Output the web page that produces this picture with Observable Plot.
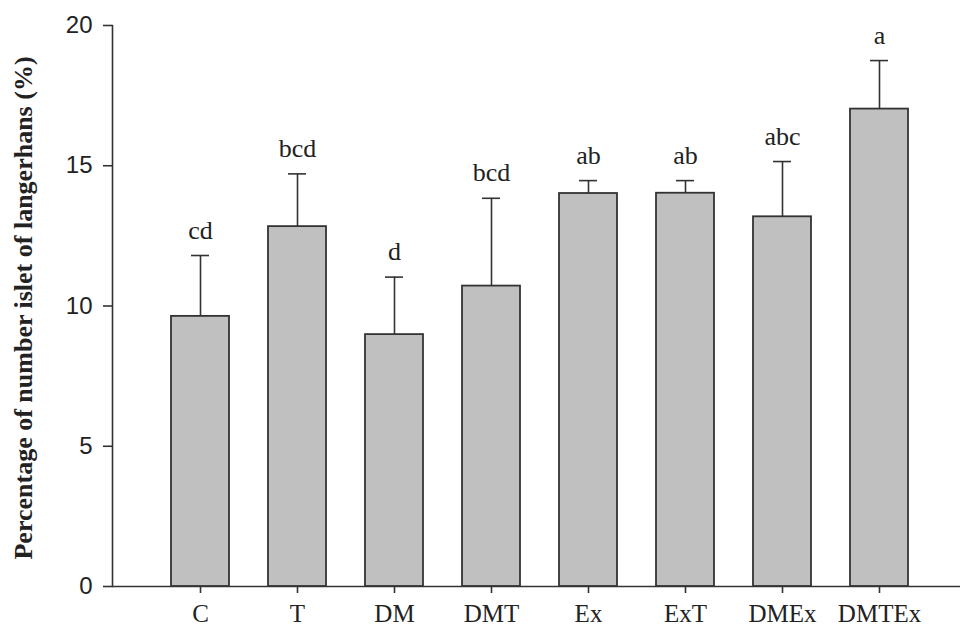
<!DOCTYPE html>
<html>
<head>
<meta charset="utf-8">
<script src="https://cdn.jsdelivr.net/npm/d3@7"></script>
<script src="https://cdn.jsdelivr.net/npm/@observablehq/plot@0.6"></script>
<style>
  html, body { margin: 0; padding: 0; background: #fff; }
  #chart svg { display: block; }
</style>
</head>
<body>
<div id="chart"></div>
<script>
const groups = ["C", "T", "DM", "DMT", "Ex", "ExT", "DMEx", "DMTEx"];
const means  = [9.63, 12.83, 8.98, 10.71, 14.01, 14.02, 13.18, 17.02];
const errTop = [11.8, 14.71, 11.03, 13.84, 14.47, 14.47, 15.15, 18.75];
const letters = ["cd", "bcd", "d", "bcd", "ab", "ab", "abc", "a"];
const yTicks = [0, 5, 10, 15, 20];

const data = groups.map((g, i) => ({g, mean: means[i], top: errTop[i], letter: letters[i]}));

const serif = "'Liberation Serif', 'Times New Roman', serif";
const sans = "'Liberation Sans', Arial, sans-serif";

const chart = Plot.plot({
  width: 960,
  height: 631,
  marginLeft: 112,
  marginRight: 0,
  marginTop: 25,
  marginBottom: 45,
  style: {background: "#fff", overflow: "visible"},
  x: {domain: groups, paddingInner: 0.4, paddingOuter: 0.553, align: 0.536, label: null},
  y: {domain: [0, 20], label: null},
  marks: [
    Plot.ruleY([0], {stroke: "#333", strokeWidth: 1.6}),
    Plot.frame({anchor: "left", stroke: "#333", strokeWidth: 1.6}),
    Plot.axisY({
      ticks: yTicks, tickSize: 9, tickPadding: 11, stroke: "#333", strokeWidth: 1.6,
      fontSize: 24, fontFamily: sans, fill: "#222", tickFormat: d => String(d)
    }),
    Plot.axisX({
      tickSize: 7, tickPadding: 11, stroke: "#333", strokeWidth: 1.6,
      fontSize: 25, fontFamily: serif, fill: "#222"
    }),
    Plot.ruleX(data, {x: "g", y1: "mean", y2: "top", stroke: "#333", strokeWidth: 1.6}),
    Plot.tickY(data, {x: "g", y: "top", stroke: "#333", strokeWidth: 1.6, insetLeft: 20, insetRight: 20}),
    Plot.barY(data, {x: "g", y: "mean", fill: "#c0c0c0", stroke: "#333", strokeWidth: 1.8}),
    Plot.text(data, {
      x: "g", y: "top", text: "letter", lineAnchor: "bottom", dy: -17,
      fontSize: 26, fontFamily: serif, fill: "#222"
    }),
    Plot.text(["Percentage of number islet of langerhans (%)"], {
      frameAnchor: "left", textAnchor: "middle", dx: -89, dy: 2, rotate: -90, text: d => d,
      fontSize: 26, fontWeight: "bold", fontFamily: serif, fill: "#222"
    })
  ]
});
document.getElementById("chart").appendChild(chart);
</script>
</body>
</html>
